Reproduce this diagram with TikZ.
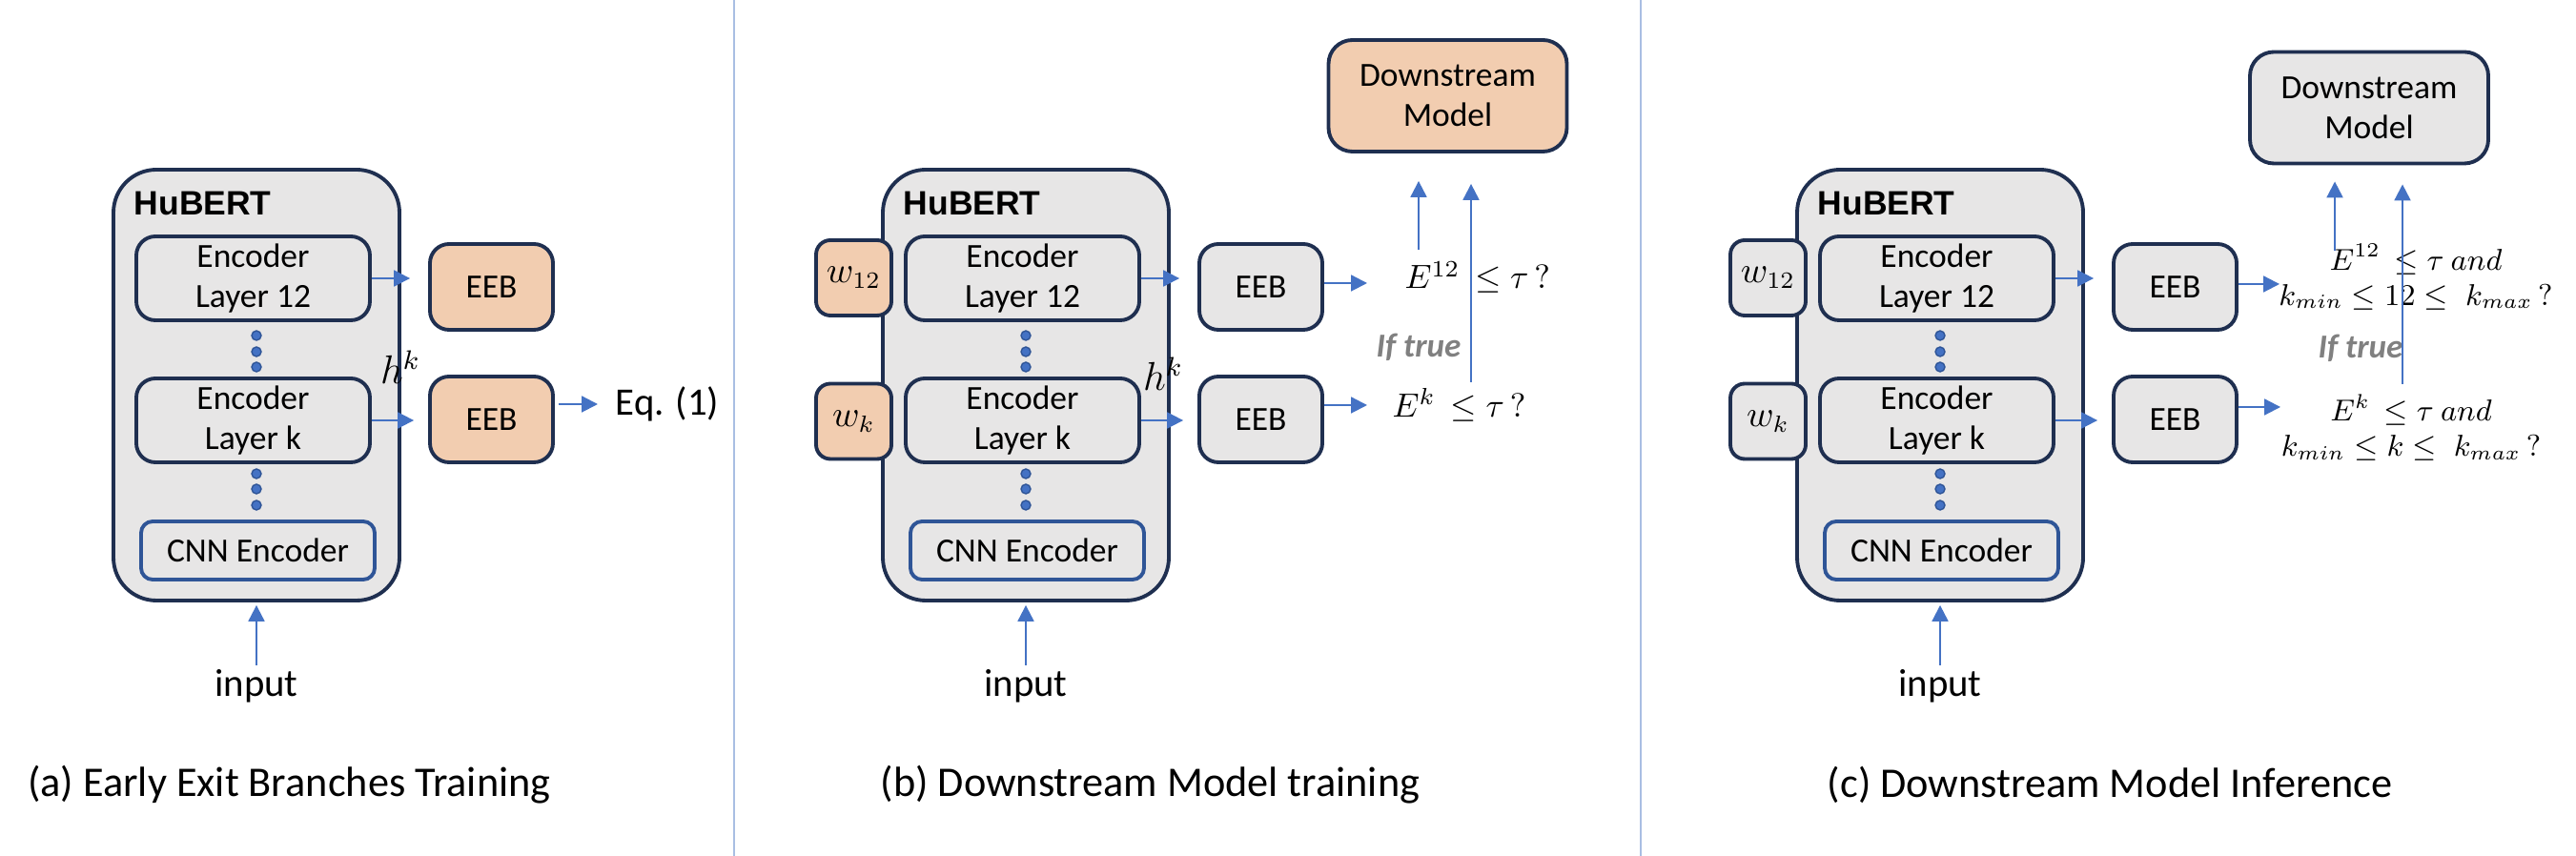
\documentclass[tikz,border=0pt]{standalone}
\usepackage[no-math]{fontspec}
\setmainfont{Carlito}
\newfontfamily\hubfont{Liberation Sans}
\usepackage{amsmath}
\usepackage{amssymb}
\usetikzlibrary{calc}
\usetikzlibrary{arrows.meta}
\definecolor{boxgray}{HTML}{E7E6E6}
\definecolor{orng}{HTML}{F2CDB0}
\definecolor{navy}{HTML}{1F2F50}
\definecolor{arrblue}{HTML}{4472C4}
\definecolor{cnnblue}{HTML}{2F5597}
\definecolor{sepblue}{HTML}{A9BEE3}
\definecolor{truegray}{HTML}{808080}

\begin{document}
\begin{tikzpicture}[
    rbox/.style={draw=navy, line width=1.1pt, rounded corners=0.2cm, inner sep=0pt, align=center, font=\fontsize{10.1}{11.9}\selectfont},
    hubbox/.style={rbox, fill=boxgray, rounded corners=0.45cm, minimum width=3cm, minimum height=4.52cm},
    encbox/.style={rbox, fill=boxgray, minimum width=2.45cm, minimum height=0.88cm},
    cnnbox/.style={rbox, draw=cnnblue, fill=boxgray, rounded corners=0.12cm, minimum width=2.45cm, minimum height=0.61cm},
    eebbox/.style={rbox, minimum width=1.29cm, minimum height=0.9cm},
    wbox/.style={rbox, rounded corners=0.15cm, minimum width=0.79cm, minimum height=0.79cm, font=\fontsize{10.5}{12}\selectfont},
    downbox/.style={rbox, rounded corners=0.25cm, minimum width=2.5cm, minimum height=1.17cm},
    stackdot/.style={circle, draw=cnnblue, fill=arrblue, line width=0.4pt, minimum size=0.1cm, inner sep=0pt},
    flow/.style={draw=arrblue, line width=0.6pt, -{Triangle[length=4.8pt,width=4.8pt]}},
    cond/.style={inner sep=0pt, align=center},
    iftrue/.style={text=truegray, inner sep=0pt, font=\fontsize{10}{12}\selectfont\bfseries\itshape},
    caption/.style={inner sep=0pt, font=\fontsize{12.6}{15}\selectfont}
]
    \useasboundingbox (0,0) rectangle (27.02,8.98);
    % panel separators
    \draw[sepblue, line width=0.6pt] (7.70,0) -- (7.70,8.98);
    \draw[sepblue, line width=0.6pt] (17.21,0) -- (17.21,8.98);

    % the three HuBERT stacks
    \foreach \p/\x/\col in {a/1.19/orng, b/9.26/boxgray, c/18.85/boxgray}{
        \node[hubbox] (\p-hub) at (\x+1.50,4.94) {};
        \node[anchor=west, inner sep=0pt, font=\hubfont\bfseries\fontsize{10.1}{12}\selectfont] (\p-name) at (\x+0.21,6.85) {HuBERT};
        \node[encbox] (\p-e12) at (\x+1.465,6.06) {Encoder\\Layer 12};
        \node[encbox] (\p-ek) at (\x+1.465,4.57) {Encoder\\Layer k};
        \node[cnnbox] (\p-cnn) at (\x+1.515,3.205) {CNN Encoder};
        \foreach \yy in {5.46,5.29,5.13,4.01,3.85,3.68}
            \node[stackdot] at (\x+1.50,\yy) {};
        \node[eebbox, fill=\col] (\p-eeb12) at (\x+3.965,5.97) {EEB};
        \node[eebbox, fill=\col] (\p-eebk) at (\x+3.965,4.58) {EEB};
        \draw[flow, shorten >=0.19cm] (\p-e12.east) -- (\p-e12.east -| \p-eeb12.west);
        \draw[flow, shorten >=0.15cm] (\p-ek.east) -- (\p-ek.east -| \p-eebk.west);
        \node[inner sep=0pt, font=\fontsize{11.6}{14}\selectfont] (\p-in) at (\x+1.50,1.78) {input};
        \draw[flow, shorten <=0.04cm, shorten >=0.03cm] (\p-in.north) -- (\p-hub.south);
    }

    % (a)
    \node[font=\fontsize{12}{14}\selectfont] (a-h) at (4.20,5.13) {$h^k$};
    \node[anchor=west, inner sep=0pt, font=\fontsize{11.6}{14}\selectfont] (a-eq) at (6.45,4.74) {Eq. (1)};
    \draw[flow, shorten <=0.04cm, shorten >=0.18cm] ([yshift=0.16cm]a-eebk.east) -- ([yshift=0.16cm]a-eebk.east -| a-eq.west);
    \node[caption] (a-cap) at (3.035,0.75) {(a) Early Exit Branches Training};

    % (b)
    \node[wbox, fill=orng] (b-w12) at (8.955,6.065) {$w_{12}$};
    \node[wbox, fill=orng] (b-wk) at (8.955,4.56) {$w_k$};
    \node[font=\fontsize{12}{14}\selectfont] (b-h) at (12.20,5.06) {$h^k$};
    \node[downbox, fill=orng] (b-down) at (15.185,7.975) {Downstream\\Model};
    \node[cond, anchor=west, font=\fontsize{10}{12}\selectfont] (b-c12) at (14.73,6.07) {$E^{12}\,\leq\tau\,?$};
    \node[cond, anchor=west, font=\fontsize{10}{12}\selectfont] (b-ck) at (14.60,4.73) {$E^{k}\,\leq\tau\,?$};
    \coordinate (b-t12) at (14.34,6.01);
    \coordinate (b-tk) at (14.34,4.73);
    \draw[flow] (b-eeb12.east |- b-t12) -- (b-t12);
    \draw[flow] (b-eebk.east |- b-tk) -- (b-tk);
    \node[iftrue] (b-if) at (14.88,5.34) {If true};
    \coordinate (b-s12) at (14.88,6.36);
    \coordinate (b-sk) at (15.43,4.97);
    \draw[flow, shorten >=0.29cm] (b-s12) -- (b-s12 |- b-down.south);
    \draw[flow, shorten >=0.32cm] (b-sk) -- (b-sk |- b-down.south);
    \node[caption] (b-cap) at (12.065,0.75) {(b) Downstream Model training};

    % (c)
    \node[wbox, fill=boxgray] (c-w12) at (18.545,6.065) {$w_{12}$};
    \node[wbox, fill=boxgray] (c-wk) at (18.545,4.56) {$w_k$};
    \node[downbox, fill=boxgray] (c-down) at (24.85,7.85) {Downstream\\Model};
    \node[cond, font=\fontsize{9}{10.5}\selectfont] (c-c12) at (25.34,6.075) {$E^{12}\,\leq\tau\ and$\\$k_{min}\leq 12\leq\; k_{max}\,?$};
    \node[cond, font=\fontsize{9}{10.5}\selectfont] (c-ck) at (25.29,4.495) {$E^{k}\,\leq\tau\ and$\\$k_{min}\leq k\leq\; k_{max}\,?$};
    \coordinate (c-t12) at (23.91,6.00);
    \coordinate (c-tk) at (23.92,4.71);
    \draw[flow] (c-eeb12.east |- c-t12) -- (c-t12);
    \draw[flow] (c-eebk.east |- c-tk) -- (c-tk);
    \node[iftrue] (c-if) at (24.76,5.33) {If true};
    \coordinate (c-s12) at (24.49,6.35);
    \coordinate (c-sk) at (25.20,4.95);
    \draw[flow, shorten >=0.17cm] (c-s12) -- (c-s12 |- c-down.south);
    \draw[flow, shorten >=0.20cm] (c-sk) -- (c-sk |- c-down.south);
    \node[caption] (c-cap) at (22.13,0.75) {(c) Downstream Model Inference};
\end{tikzpicture}
\end{document}
